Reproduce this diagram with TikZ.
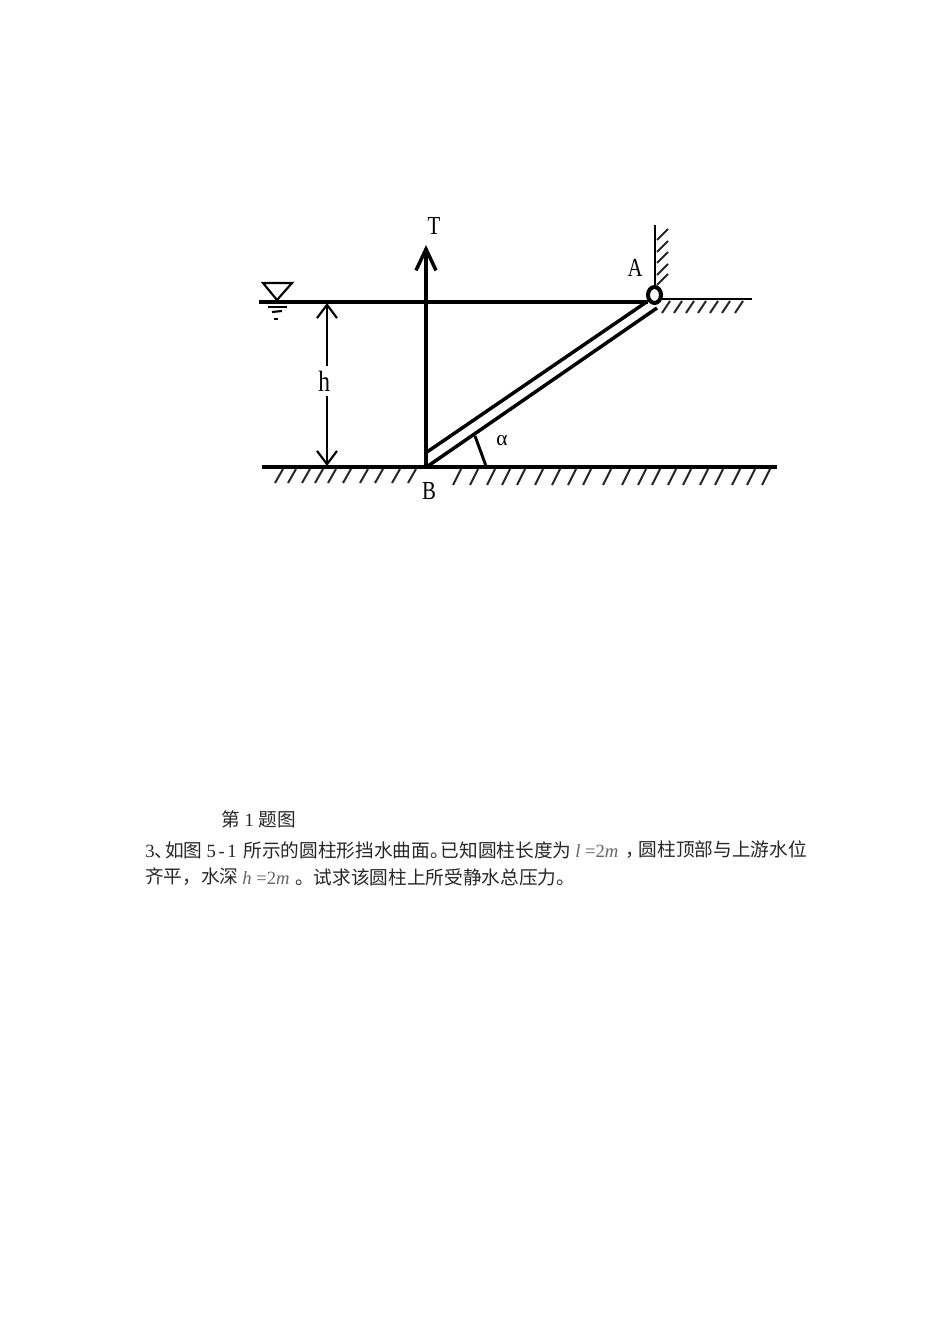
\documentclass[tikz,border=0pt]{standalone}
\usepackage{fontspec}
\setmainfont{Liberation Serif}
\newfontfamily\cjk{Noto Sans CJK SC}
\newfontfamily\narrowfont[FakeStretch=.8]{Liberation Serif}
\usetikzlibrary{arrows.meta}
\NewDocumentCommand\DrawHatch{mmm}%
{%
\foreach \hx in {#1} \draw[hatch] (\hx+8,#2) -- (\hx,#3);%
}
\tikzset{
  hatch/.style={line width=1.5pt,black!85},
  heavy/.style={line width=2.6pt},
  medium/.style={line width=1.6pt},
  letter/.style={font=\narrowfont\fontsize{19.5}{21}\selectfont,inner sep=0pt},
  line text/.style={font=\cjk\fontsize{14}{16}\selectfont,text=black!85,anchor=west,inner sep=0pt},
  formula/.style={font=\fontsize{14}{16}\selectfont,text=black!60,anchor=west,inner sep=0pt},
}
\begin{document}
\begin{tikzpicture}[x=.75pt,y=-.75pt]
\useasboundingbox (0,0) rectangle (950,1344);
\coordinate (Water) at (259,302);
\coordinate (WaterEnd) at (648,302);
\coordinate (GroundL) at (262,467);
\coordinate (GroundR) at (777,467);
\coordinate (B) at (426,467);
\coordinate (Ttip) at (426,245);
\coordinate (DimTop) at (327,303);
\coordinate (DimBot) at (327,466);
\coordinate (GateTop) at (645,303);
\coordinate (GateBot) at (427,452);
\coordinate (GateTopB) at (657,308);
\coordinate (GateBotB) at (428,466);
\coordinate (AngleA) at (475,436);
\coordinate (AngleB) at (486,466);
\coordinate (WallTop) at (655,225);
\coordinate (WallBot) at (655,288);
\coordinate (ShelfL) at (660,299);
\coordinate (ShelfR) at (752,299);
% water level and ground
\draw[heavy] (Water) -- (WaterEnd);
\draw[heavy] (GroundL) -- (GroundR);
\draw[medium] (ShelfL) -- (ShelfR);
\DrawHatch{275,288,302,315,328,343,360,375,392,408}{469}{483}
\DrawHatch{453,470,487,502,517,535,552,568,583,603,622,638,652,668,683,700,715,732,747,762}{469}{485}
\DrawHatch{662,674,686,698,710,722,735}{301}{313}
% water mark
\draw[medium] (263,283) -- (292,283) -- (277,300) -- cycle;
\draw[medium] (268,307) -- (287,307);
\draw[medium] (272,312) -- (282,311);
\draw[medium] (274,319) -- (278,319);
% force and dimension
\draw[heavy,-{Straight Barb[length=16pt,width=15pt,line width=2.6pt]}] (B) -- (Ttip);
\draw[medium,{Straight Barb[length=10pt,width=15pt]}-{Straight Barb[length=10pt,width=15pt]}] (DimTop) -- (DimBot)
  node[pos=.48,fill=white,inner ysep=3.5pt,inner xsep=1pt,xshift=-2pt] (hlabel) {\narrowfont\fontsize{22}{24}\selectfont h};
% gate
\draw[heavy] (GateBot) -- (GateTop);
\draw[heavy] (GateBotB) -- (GateTopB);
\draw[line width=2.2pt] (AngleA) -- (AngleB);
% wall and hinge
\draw[medium] (WallTop) -- (WallBot);
\foreach \wy in {240,252,263,275,285} \draw[hatch] (657,\wy) -- (668,\wy-11);
\draw[line width=3pt,fill=white] (654.5,295) ellipse (6.5 and 8);
% labels
\node[letter] (T) at (434,226) {T};
\node[letter] (A) at (635,268) {A};
\node[letter] (Blabel) at (429,491) {B};
\node[font=\fontsize{16}{18}\selectfont,inner sep=0pt] (alpha) at (502,441) {α};
% text
\node[line text] (caption) at (221,819) {第\kern3.5pt{\rmfamily 1}\kern3.5pt题图};
\node[line text] (lineA) at (145,850) {{\rmfamily 3}、\kern-6pt 如图\kern3pt{\rmfamily 5\kern2pt-\kern2pt 1}\kern5pt 所示的圆柱形挡水曲面。\kern-6pt 已知圆柱长度为};
\node[formula] (fl) at (575,851) {\textit{l}\ =2\textit{m}};
\node[line text] (lineB) at (625,850) {，\kern-3.75pt 圆柱顶部与上游水位};
\node[line text] (lineC) at (145,877) {齐平，水深};
\node[formula] (fh) at (242,878) {\textit{h}\ =2\textit{m}};
\node[line text] (lineD) at (295,877) {。试求该圆柱上所受静水总压力。};
\end{tikzpicture}
\end{document}
